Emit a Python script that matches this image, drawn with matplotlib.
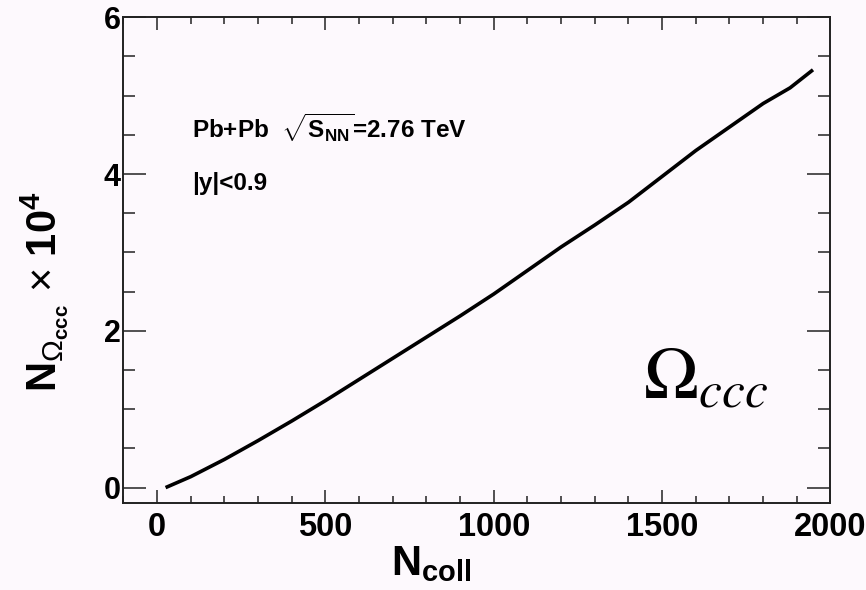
import matplotlib
matplotlib.use("Agg")
import matplotlib.pyplot as plt
from matplotlib.ticker import MultipleLocator

# Omega_ccc yield vs number of binary collisions
ncoll = [25, 100, 200, 300, 400, 500, 600, 700, 800, 900, 1000,
         1100, 1200, 1300, 1400, 1500, 1600, 1700, 1800, 1880, 1948]
n_omega = [0.0, 0.14, 0.36, 0.6, 0.85, 1.11, 1.38, 1.65, 1.92, 2.19, 2.47,
           2.77, 3.07, 3.35, 3.64, 3.97, 4.3, 4.6, 4.9, 5.1, 5.33]

xticks = [0, 500, 1000, 1500, 2000]
yticks = [0, 2, 4, 6]

plt.rcParams['font.family'] = ['Liberation Sans', 'DejaVu Sans']
plt.rcParams['mathtext.fontset'] = 'custom'
plt.rcParams['mathtext.rm'] = 'Liberation Sans'
plt.rcParams['mathtext.bf'] = 'Liberation Sans:bold'
plt.rcParams['mathtext.it'] = 'Liberation Sans:italic'
plt.rcParams['mathtext.default'] = 'it'

bg = '#fdf9fd'
fig = plt.figure(figsize=(8.66, 5.90), dpi=100, facecolor=bg)
ax = fig.add_axes([0.1426, 0.147, 0.959 - 0.1426, 0.9707 - 0.147])
ax.set_facecolor(bg)

ax.plot(ncoll, n_omega, color='black', lw=2.6, solid_capstyle='butt')

ax.set_xlim(-100, 2000)
ax.set_ylim(-0.2, 6)
ax.set_xticks(xticks)
ax.set_yticks(yticks)
ax.xaxis.set_minor_locator(MultipleLocator(100))
ax.yaxis.set_minor_locator(MultipleLocator(0.5))

for s in ax.spines.values():
    s.set_linewidth(1.4)
    s.set_color('#222222')

ax.tick_params(axis='both', which='both', direction='in', top=True, right=True,
               color='#222222', width=1.1)
ax.tick_params(axis='x', which='major', length=9.5, labelsize=23.5, pad=6)
ax.tick_params(axis='x', which='minor', length=5)
ax.tick_params(axis='y', which='major', length=16.5, labelsize=22, pad=2)
ax.tick_params(axis='y', which='minor', length=8.5)
for lab in ax.get_xticklabels() + ax.get_yticklabels():
    lab.set_fontweight('bold')

ax.set_xlabel(r'N$_{\mathbf{coll}}$', fontsize=30, fontweight='bold')
ax.xaxis.set_label_coords(0.435, -0.084)
ax.set_ylabel(r'N$_{\mathrm{\Omega}_{\mathbf{ccc}}}$ $\mathrm{\times}$ 10$^{\mathbf{4}}$',
              fontsize=30, fontweight='bold', va='center')
ax.yaxis.set_label_coords(-0.111, 0.435)

ax.text(103, 4.59, r'Pb+Pb  $\sqrt{\mathbf{S}_{\mathbf{NN}}}$=2.76 TeV',
        fontsize=17.5, fontweight='bold', ha='left', va='center')
ax.text(103, 3.88, '|y|<0.9', fontsize=17.5, fontweight='bold', ha='left', va='center')

ax.text(1443, 1.14, r'$\Omega_{ccc}$', fontsize=53,
        math_fontfamily='stix', ha='left', va='baseline')

fig.savefig('out.png', dpi=100, facecolor=bg)
